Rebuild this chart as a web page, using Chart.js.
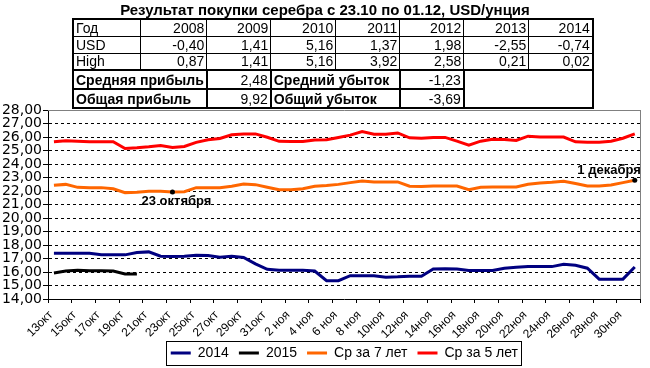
<!DOCTYPE html>
<html><head><meta charset="utf-8">
<script src="https://cdn.jsdelivr.net/npm/chart.js@4/dist/chart.umd.min.js"></script>
<style>
html,body{margin:0;padding:0;background:#fff;}
#wrap{position:relative;width:650px;height:368px;overflow:hidden;background:#fff;}
#c{position:absolute;left:0;top:0;}
#title{position:absolute;left:0;top:1px;width:650px;text-align:center;font:bold 15px "Liberation Sans Narrow","Arial Narrow","Liberation Sans",sans-serif;color:#000;white-space:nowrap;}
#tbl{position:absolute;left:72px;top:18px;border-collapse:collapse;table-layout:fixed;font:14px "Liberation Sans Narrow","Arial Narrow","Liberation Sans",sans-serif;color:#000;border:2px solid #000;}
#tbl td{border:1px solid #000;padding:0 2px;white-space:nowrap;overflow:hidden;line-height:14px;}
#tbl tr.r{height:17px;}
#tbl tr.b{height:19px;}
#tbl tr.b td{border:2px solid #000;font-weight:bold;}
#tbl td.n{text-align:right;font-weight:normal !important;}
</style></head>
<body>
<div id="wrap">
<canvas id="c" width="650" height="368"></canvas>
<div id="title">Результат покупки серебра с 23.10 по 01.12, USD/унция</div>
<table id="tbl"></table>
</div>
<script>
// ---- table data ----
const years = ['2008','2009','2010','2011','2012','2013','2014'];
const usdRow = ['-0,40','1,41','5,16','1,37','1,98','-2,55','-0,74'];
const highRow = ['0,87','1,41','5,16','3,92','2,58','0,21','0,02'];
const avgProfit = '2,48', avgLoss = '-1,23', totProfit = '9,92', totLoss = '-3,69';

// ---- chart data ----
const days = ['13окт','14окт','15окт','16окт','17окт','18окт','19окт','20окт','21окт','22окт',
  '23окт','24окт','25окт','26окт','27окт','28окт','29окт','30окт','31окт','1 ноя',
  '2 ноя','3 ноя','4 ноя','5 ноя','6 ноя','7 ноя','8 ноя','9 ноя','10ноя','11ноя',
  '12ноя','13ноя','14ноя','15ноя','16ноя','17ноя','18ноя','19ноя','20ноя','21ноя',
  '22ноя','23ноя','24ноя','25ноя','26ноя','27ноя','28ноя','29ноя','30ноя','1 дек'];
const yTicks = [14,15,16,17,18,19,20,21,22,23,24,25,26,27,28];
const s2014 = [17.39,17.39,17.39,17.39,17.27,17.27,17.27,17.45,17.49,17.17,
  17.15,17.17,17.24,17.22,17.10,17.17,17.08,16.60,16.20,16.13,
  16.13,16.13,16.07,15.36,15.36,15.73,15.73,15.73,15.62,15.64,
  15.68,15.68,16.22,16.24,16.22,16.12,16.12,16.12,16.28,16.35,
  16.40,16.40,16.40,16.57,16.50,16.28,15.47,15.47,15.47,16.37];
const s2015 = [15.93,16.07,16.13,16.10,16.10,16.08,15.86,15.85];
const avg7 = [22.42,22.49,22.27,22.25,22.25,22.17,21.88,21.90,21.98,21.98,
  21.93,21.95,22.25,22.25,22.25,22.35,22.52,22.47,22.28,22.10,
  22.10,22.17,22.35,22.40,22.49,22.62,22.74,22.67,22.67,22.67,
  22.35,22.33,22.37,22.37,22.37,22.10,22.28,22.30,22.30,22.30,
  22.50,22.60,22.65,22.72,22.55,22.37,22.37,22.45,22.62,22.80];
const avg5 = [25.65,25.72,25.68,25.65,25.65,25.65,25.15,25.20,25.27,25.37,
  25.22,25.30,25.60,25.80,25.89,26.16,26.23,26.23,25.98,25.68,
  25.66,25.66,25.78,25.80,25.97,26.14,26.40,26.20,26.20,26.30,
  25.94,25.90,25.96,25.97,25.69,25.40,25.69,25.84,25.82,25.74,
  26.06,26.00,26.00,26.00,25.64,25.62,25.62,25.69,25.91,26.23];
const annoDays = [10, 49];
const annoTexts = ['23 октября', '1 декабря'];

// build table
(function(){
  const t = document.getElementById('tbl');
  const widths = [65,64,64,65,64,64,65,64];
  let h = '<colgroup>' + widths.map(w=>'<col style="width:'+w+'px">').join('') + '</colgroup>';
  h += '<tr class="r"><td>Год</td>' + years.map(v=>'<td class="n">'+v+'</td>').join('') + '</tr>';
  h += '<tr class="r"><td>USD</td>' + usdRow.map(v=>'<td class="n">'+v+'</td>').join('') + '</tr>';
  h += '<tr class="r"><td>High</td>' + highRow.map(v=>'<td class="n">'+v+'</td>').join('') + '</tr>';
  h += '<tr class="b"><td colspan="2">Средняя прибыль</td><td class="n">'+avgProfit+'</td><td colspan="2">Средний убыток</td><td class="n">'+avgLoss+'</td><td colspan="2" rowspan="2"></td></tr>';
  h += '<tr class="b"><td colspan="2">Общая прибыль</td><td class="n">'+totProfit+'</td><td colspan="2">Общий убыток</td><td class="n">'+totLoss+'</td></tr>';
  t.innerHTML = h;
})();

const LEG_FONT = 14, LEG_BOX = 20, LEG_PAD = 10;
const extras = {
  id: 'extras',
  afterLayout(chart){
    // let rotated x labels overflow the axis box (no clipping)
    const xs = chart.scales.x;
    if (xs) xs._computeLabelArea = () => undefined;
  },
  beforeDraw(chart){
    const ctx = chart.ctx;
    ctx.save(); ctx.fillStyle = '#fff'; ctx.fillRect(0,0,chart.width,chart.height); ctx.restore();
  },
  afterDatasetsDraw(chart){
    const a = chart.chartArea, ctx = chart.ctx;
    ctx.save(); ctx.strokeStyle = '#808080'; ctx.lineWidth = 1;
    ctx.beginPath(); ctx.moveTo(a.left, Math.round(a.top)+0.5); ctx.lineTo(a.right, Math.round(a.top)+0.5); ctx.stroke();
    ctx.restore();
  },
  afterDraw(chart){
    const ctx = chart.ctx;
    const meta = chart.getDatasetMeta(2);
    ctx.save();
    ctx.font = 'bold 13px "Liberation Sans", Arial, sans-serif';
    ctx.fillStyle = '#000';
    annoDays.forEach((d, k) => {
      const el = meta.data[d];
      if (!el) return;
      ctx.beginPath(); ctx.arc(el.x, el.y, 2.5, 0, Math.PI*2); ctx.fill();
      ctx.textBaseline = 'alphabetic';
      if (k === 0) { ctx.textAlign = 'center'; ctx.fillText(annoTexts[k], el.x + 4, el.y + 13); }
      else { ctx.textAlign = 'right'; ctx.fillText(annoTexts[k], el.x + 6, el.y - 6); }
    });
    ctx.restore();
    const lg = chart.legend;
    if (!lg) return;
    ctx.save();
    ctx.font = LEG_FONT + 'px "Liberation Sans", Arial, sans-serif';
    let total = 0;
    chart.data.datasets.forEach((ds, i) => {
      total += LEG_BOX + LEG_FONT / 2 + ctx.measureText(ds.label).width + (i ? LEG_PAD : 0);
    });
    const startX = (lg.left + LEG_PAD + lg.right - (total + LEG_PAD)) / 2;
    const rowTop = lg.top + LEG_PAD;
    const l = startX - 5, r = startX + total + 3;
    const t = rowTop - 5, b = rowTop + LEG_FONT + 5;
    ctx.strokeStyle = '#000'; ctx.lineWidth = 1;
    ctx.strokeRect(Math.round(l)+0.5, Math.round(t)+0.5, Math.round(r-l), Math.round(b-t));
    ctx.restore();
  }
};

new Chart(document.getElementById('c'), {
  type: 'line',
  data: {
    labels: days,
    datasets: [
      {label:'2014', data:s2014, borderColor:'#000080', backgroundColor:'#000080', borderWidth:3, pointRadius:0, tension:0},
      {label:'2015', data:s2015, borderColor:'#000000', backgroundColor:'#000000', borderWidth:3, pointRadius:0, tension:0},
      {label:'Ср за 7 лет', data:avg7, borderColor:'#FF6600', backgroundColor:'#FF6600', borderWidth:3, pointRadius:0, tension:0},
      {label:'Ср за 5 лет', data:avg5, borderColor:'#FF0000', backgroundColor:'#FF0000', borderWidth:3, pointRadius:0, tension:0}
    ]
  },
  options: {
    responsive:false, animation:false, devicePixelRatio:1,
    layout:{padding:{top:110, right:4, left:0, bottom:-2}},
    plugins:{
      title:{display:false}, tooltip:{enabled:false},
      legend:{
        position:'bottom', fullSize:false,
        labels:{
          color:'#000', font:{family:'"Liberation Sans", Arial, sans-serif', size:LEG_FONT},
          boxWidth:LEG_BOX, boxHeight:3, padding:LEG_PAD,
          generateLabels(chart){
            return Chart.defaults.plugins.legend.labels.generateLabels(chart).map(it => { it.lineWidth = 0; return it; });
          }
        }
      }
    },
    scales:{
      x:{
        type:'category', offset:true,
        grid:{
          offset:true, drawOnChartArea:true, drawTicks:true, tickLength:4, lineWidth:1,
          color: c => (c.index === undefined ? '#808080' : 'rgba(0,0,0,0)'),
          tickColor: c => (c.index === undefined || c.index % 2 === 0 ? '#000' : 'rgba(0,0,0,0)')
        },
        border:{display:true, color:'#000', width:1},
        ticks:{
          autoSkip:false, minRotation:45, maxRotation:45, padding:5, labelOffset:-3, color:'#000',
          font:{family:'"Liberation Sans", Arial, sans-serif', size:12},
          callback:(v, i) => (i % 2 === 0 ? days[i] : '')
        },
        afterFit: s => { s.height = 37; }
      },
      y:{
        min:14, max:28,
        afterBuildTicks: s => { s.ticks = yTicks.map(v => ({value:v})); },
        grid:{
          drawTicks:true, tickLength:5, lineWidth:1, tickColor:'#000', tickBorderDash:[],
          color: c => (c.tick && (c.tick.value === 28 || c.tick.value === 14) ? 'rgba(0,0,0,0)' : '#000')
        },
        border:{display:true, color:'#000', width:1, dash:[3,3]},
        ticks:{
          autoSkip:false, padding:1, color:'#000',
          font:{family:'"DejaVu Sans", Verdana, sans-serif', size:14},
          callback: v => Number(v).toFixed(2).replace('.', ',')
        },
        afterFit: s => { s.width = 48; }
      }
    }
  },
  plugins:[extras]
});
</script>
</body></html>
